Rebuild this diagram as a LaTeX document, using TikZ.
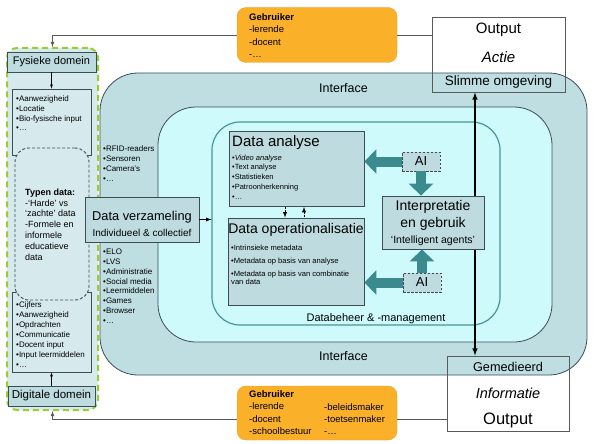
\documentclass[tikz,border=0pt]{standalone}
\usepackage{fontspec}
\setmainfont{Liberation Sans}
\usetikzlibrary{arrows,arrows.meta,calc,positioning}
\definecolor{ifacefill}{RGB}{190,222,226}
\definecolor{corefill}{RGB}{206,250,252}
\definecolor{boxfill}{RGB}{190,220,224}
\definecolor{domfill}{RGB}{214,234,237}
\definecolor{greenline}{RGB}{154,205,50}
\definecolor{orangefill}{RGB}{251,176,41}
\definecolor{orangeline}{RGB}{238,160,60}
\definecolor{tealarrow}{RGB}{58,138,142}
\definecolor{tealline}{RGB}{70,150,152}
\definecolor{darkline}{RGB}{60,78,84}
\definecolor{linegray}{RGB}{90,90,90}
\tikzset{>=latex}
\tikzset{
  region/.style={draw=darkline,line width=0.8pt,rounded corners=38pt,inner sep=0pt},
  box/.style={draw=darkline,fill=boxfill,line width=0.8pt,inner sep=0pt},
  outbox/.style={draw=linegray,line width=0.9pt,inner sep=0pt},
  aibox/.style={draw=darkline,dash pattern=on 2.5pt off 1.5pt,fill=boxfill,line width=0.9pt,inner sep=0pt,
    minimum width=38pt,minimum height=19pt,font=\fontsize{13}{13}\selectfont},
  userbox/.style={draw=orangeline,fill=orangefill,rounded corners=9pt,inner sep=0pt,
    minimum width=160pt,minimum height=55pt},
  list/.style={anchor=north west,inner sep=0pt,align=left,font=\fontsize{8}{9.8}\selectfont},
  fat/.style={draw=tealarrow,line width=10pt,-{Triangle[width=24pt,length=12pt]}},
  conn/.style={draw=linegray,line width=0.8pt},
}
\begin{document}
\begin{tikzpicture}[x=1pt,y=-1pt]
  \useasboundingbox (0,0) rectangle (595,444);

  % interface regions
  \node[region,fill=ifacefill,minimum width=487pt,minimum height=302pt] (iface) at (343.5,224) {};
  \node[region,fill=corefill,minimum width=394pt,minimum height=235pt] (core) at (355,224.5) {};
  \node[region,draw=tealline,line width=1.2pt,rounded corners=28pt,minimum width=288pt,minimum height=203pt] (dbeheer) at (356,223.5) {};
  \node[font=\fontsize{12.5}{14}\selectfont] (ifacetop) at (343.5,88) {Interface};
  \node[font=\fontsize{12.5}{14}\selectfont] (ifacebot) at (343.5,356) {Interface};
  \node[font=\fontsize{11}{13}\selectfont] (dblabel) at (376,319) {Databeheer \& -management};

  % output boxes
  \node[outbox,minimum width=133pt,minimum height=75pt] (outtop) at (498.5,54.5) {};
  \node[font=\fontsize{15}{15}\selectfont] (outtopa) at (498.5,30) {Output};
  \node[font=\fontsize{15}{15}\selectfont\itshape] (outtopb) at (498.5,57) {Actie};
  \node[font=\fontsize{13.5}{14}\selectfont] (outtopc) at (498.5,82) {Slimme omgeving};
  \node[outbox,minimum width=122pt,minimum height=75pt] (outbot) at (508,393.5) {};
  \node[font=\fontsize{12.7}{14}\selectfont] (outbota) at (508,367) {Gemedieerd};
  \node[font=\fontsize{14.5}{15}\selectfont\itshape] (outbotb) at (508,393) {Informatie};
  \node[font=\fontsize{16.5}{17}\selectfont] (outbotc) at (508,420) {Output};

  % users
  \node[userbox] (usertop) at (317,35) {};
  \node[list,font=\fontsize{9.5}{12.3}\selectfont] (usertoptext) at (249,13.5) {\textbf{Gebruiker}\\-lerende\\-docent\\-…};
  \node[userbox,minimum height=54pt] (userbot) at (317,413) {};
  \node[list,font=\fontsize{9.5}{12.3}\selectfont] (userbotl) at (249,390.5) {\textbf{Gebruiker}\\-lerende\\-docent\\-schoolbestuur};
  \node[list,font=\fontsize{9.5}{12.3}\selectfont] (userbotr) at (324,403) {-beleidsmaker\\-toetsenmaker\\-…};

  % domains
  \node[draw=greenline,line width=2pt,dash pattern=on 6pt off 4pt,fill=domfill,rounded corners=10pt,
    minimum width=91pt,minimum height=362pt,inner sep=0pt] (domains) at (52.5,229) {};
  \node[box,minimum width=89pt,minimum height=20pt,font=\fontsize{11}{13}\selectfont] (fysiek) at (51.5,62) {Fysieke domein};
  \node[box,fill=domfill,minimum width=79pt,minimum height=66pt] (fysieklist) at (51.5,122) {};
  \node[list] (fysiekitems) at (16,95.5) {•Aanwezigheid\\•Locatie\\•Bio-fysische input\\•…};
  \node[box,fill=domfill,minimum width=79pt,minimum height=80pt] (digilist) at (51.5,332) {};
  \node[list,font=\fontsize{8}{10}\selectfont] (digiitems) at (16,301.5) {•Cijfers\\•Aanwezigheid\\•Opdrachten\\•Communicatie\\•Docent input\\•Input leermiddelen\\•…};
  \node[draw=darkline,line width=0.9pt,dash pattern=on 3pt off 2pt,fill=domfill,rounded corners=14pt,minimum width=74pt,minimum height=152pt,inner sep=0pt] (typen) at (52,224) {};
  \node[list,font=\fontsize{9}{10.8}\selectfont] (typentext) at (25,188.5) {\textbf{Typen data:}\\-`Harde' vs\\`zachte' data\\-Formele en\\informele\\educatieve\\data};
  \node[box,minimum width=87pt,minimum height=20pt,font=\fontsize{11.5}{13}\selectfont] (digi) at (51.5,396) {Digitale domein};
  \draw[->] (fysiek) -- (fysieklist);
  \draw[->] (digi) -- (digilist);

  % feedback lines
  \draw[conn,->] (usertop.west) -| (domains.north);
  \draw[conn] (usertop.east) -- (usertop.east -| outtop.west);
  \draw[conn,->] ([yshift=-6pt]userbot.west) -| (domains.south);
  \draw[conn] ([yshift=-6pt]userbot.east) -- ([yshift=-6pt]userbot.east -| outbot.west);

  % sources
  \node[list] (sensors) at (103,146) {•RFID-readers\\•Sensoren\\•Camera’s\\•…};
  \node[list] (digital) at (103,249) {•ELO\\•LVS\\•Administratie\\•Social media\\•Leermiddelen\\•Games\\•Browser\\•…};

  % data collection
  \node[box,minimum width=114pt,minimum height=45pt] (verz) at (142,219.5) {};
  \node[font=\fontsize{12.8}{14}\selectfont] (verza) at (142,217) {Data verzameling};
  \node[font=\fontsize{10}{12}\selectfont] (verzb) at (142,233) {Individueel \& collectief};
  \draw[->,line width=0.8pt] (verz.east) -- (verz.east -| dbeheer.west);

  % link between output boxes
  \coordinate (link) at (475,0);
  \draw[<->,line width=1.5pt] (outbot.north -| link) -- (outtop.south -| link);

  % analysis
  \node[box,minimum width=135pt,minimum height=75pt] (analyse) at (296.5,169) {};
  \node[anchor=west,inner sep=0pt,font=\fontsize{15}{16}\selectfont] (analysetitle) at (232,143) {Data analyse};
  \node[list,font=\fontsize{7.5}{9.8}\selectfont] (analyseitems) at (232,154.5) {•\textit{Video analyse}\\•Text analyse\\•Statistieken\\•Patroonherkenning\\•…};

  % operationalisation
  \node[box,minimum width=136pt,minimum height=87pt] (op) at (296,261.5) {};
  \node[font=\fontsize{14}{15}\selectfont] (optitle) at (296,230) {Data operationalisatie};
  \node[list,font=\fontsize{7.6}{8.2}\selectfont] (opitems) at (231,245) {•Intrinsieke metadata\\[4.6pt]•Metadata op basis van analyse\\[4.6pt]•Metadata op basis van combinatie\\van data};
  \draw[->,line width=0.9pt,dash pattern=on 2pt off 1.5pt] ([xshift=-11.5pt]analyse.south) -- ([xshift=-11.5pt]analyse.south |- op.north);
  \draw[<-,line width=0.9pt,dash pattern=on 2pt off 1.5pt] ([xshift=7.5pt]analyse.south) -- ([xshift=7.5pt]analyse.south |- op.north);

  % interpretation and AI
  \node[box,minimum width=102pt,minimum height=53pt] (interp) at (433,222.5) {};
  \node[font=\fontsize{14}{15}\selectfont] (interpa) at (433,207) {Interpretatie};
  \node[font=\fontsize{14}{15}\selectfont] (interpb) at (433,224) {en gebruik};
  \node[font=\fontsize{10.5}{12}\selectfont] (interpc) at (433,240.5) {`Intelligent agents'};
  \node[aibox] (aitop) at (421,161.5) {AI};
  \node[aibox] (aibot) at (422,282.5) {AI};
  \draw[fat] (aitop.west) -- (aitop.west -| analyse.east);
  \draw[fat] (aitop.south) -- (interp.north -| aitop.south);
  \draw[fat] (aibot.west) -- (aibot.west -| op.east);
  \draw[fat] (aibot.north) -- (interp.south -| aibot.north);
\end{tikzpicture}
\end{document}
